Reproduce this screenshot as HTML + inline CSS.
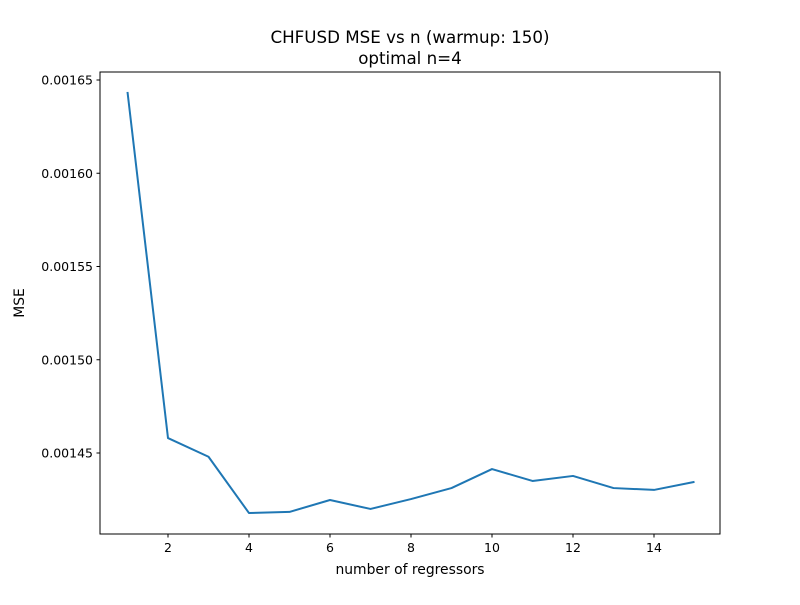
<!DOCTYPE html>
<html><head><meta charset="utf-8"><style>
body{margin:0;background:#fff;}
svg text{font-family:"DejaVu Sans","Liberation Sans",sans-serif;fill:#000;}
</style></head><body>
<svg id="chart" width="800" height="600">
<rect width="800" height="600" fill="#fff"/>
<text x="410" y="43" font-size="16.7" text-anchor="middle">CHFUSD MSE vs n (warmup: 150)</text>
<text x="410" y="64" font-size="16.7" text-anchor="middle">optimal n=4</text>
<g id="plot"></g>
<rect x="100" y="72" width="620" height="462" fill="none" stroke="#000" stroke-width="1"/>
<text x="410" y="574" font-size="13.9" text-anchor="middle">number of regressors</text>
<text x="24" y="303" font-size="13.9" text-anchor="middle" transform="rotate(-90 24 303)">MSE</text>
</svg>
<script>
const nValues=[1,2,3,4,5,6,7,8,9,10,11,12,13,14,15];
const mseValues=[0.0016436,0.001458,0.001448,0.0014178,0.0014184,0.0014248,0.00142,0.0014253,0.0014312,0.0014414,0.001435,0.0014377,0.0014312,0.0014302,0.0014345];
const xTicks=[2,4,6,8,10,12,14];
const yTicks=[0.00145,0.00150,0.00155,0.00160,0.00165];
const yTickLabels=["0.00145","0.00150","0.00155","0.00160","0.00165"];
function xs(v){return 127.5+(v-1)*40.5;}
function ys(v){return 453-(v-0.00145)/0.00005*93.25;}
const g=document.getElementById('plot');
const NS='http://www.w3.org/2000/svg';
function mk(t,a){const e=document.createElementNS(NS,t);for(const k in a)e.setAttribute(k,a[k]);g.appendChild(e);return e;}
xTicks.forEach(t=>{
 const l=mk('line',{x1:xs(t),x2:xs(t),y1:534,y2:537.5,stroke:'#000'});
 
 
 const tx=mk('text',{x:xs(t),y:552,'font-size':12.5,'text-anchor':'middle'});tx.textContent=t;
 
 
});
yTicks.forEach((t,i)=>{
 const l=mk('line',{x1:96.5,x2:100,y1:ys(t),y2:ys(t),stroke:'#000'});
 
 
 const tx=mk('text',{x:93,y:ys(t)+4.5,'font-size':12.5,'text-anchor':'end'});tx.textContent=yTickLabels[i];
 
 
});
const p=mk('polyline',{points:nValues.map((n,i)=>xs(n)+','+ys(mseValues[i])).join(' '),fill:'none',stroke:'#1f77b4','stroke-width':2,'stroke-linejoin':'round'});


</script>
</body></html>
